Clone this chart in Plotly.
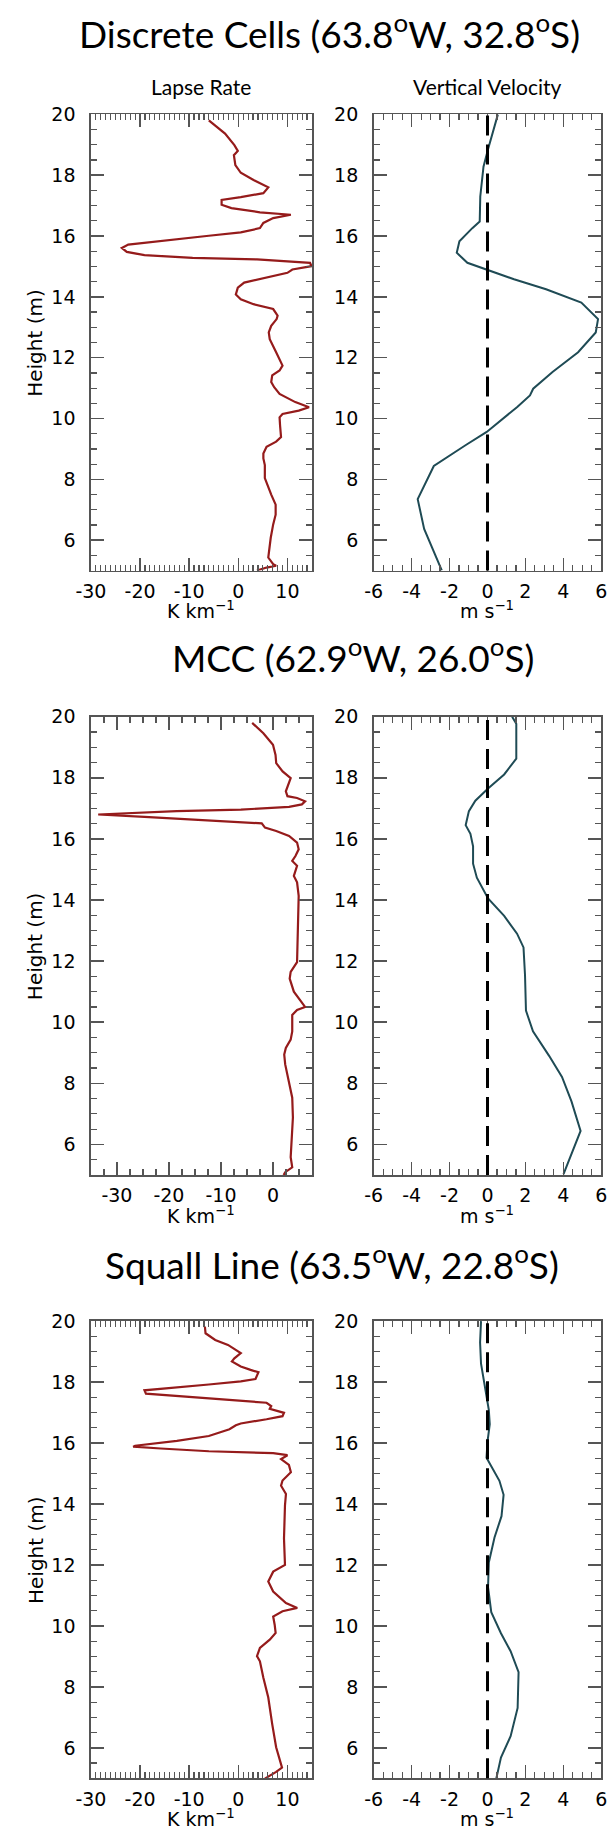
import plotly.graph_objects as go

W, H = 614, 1832

# ---------------- Data (heights in "m" as labelled) -------------
# Discrete Cells - lapse rate (K km^-1)
dc_lapse_h = [19.8, 19.37, 18.99, 18.8, 18.66, 18.33, 18.08, 17.84, 17.6, 17.41, 17.28, 17.19, 17.03,
              16.92, 16.78, 16.7, 16.59, 16.43, 16.26, 16.12, 16.01, 15.83, 15.72, 15.61, 15.48, 15.37,
              15.28, 15.23, 15.12, 15.01, 14.9, 14.79, 14.63, 14.47, 14.3, 14.08, 13.92, 13.76, 13.6,
              13.38, 13.27, 13.05, 12.83, 12.61, 12.18, 11.74, 11.58, 11.42, 11.2, 11.03, 10.81, 10.54,
              10.37, 10.26, 10.15, 10.04, 9.77, 9.39, 9.24, 9.07, 8.85, 8.69, 8.47, 8.04, 7.5, 7.17,
              6.84, 6.52, 6.08, 5.43, 5.21, 5.16, 5.1, 5.0]
dc_lapse_v = [-6.0, -2.7, -0.8, -0.1, -0.9, -0.6, 0.5, 3.1, 6.1, 5.1, 0.5, -3.4, -3.4,
              -1.4, 4.4, 10.7, 7.1, 5.1, 4.4, 0.5, -6.0, -15.8, -22.4, -23.7, -22.7, -19.1,
              -9.3, 3.8, 14.6, 14.9, 11.0, 10.0, 5.75, 1.2, -0.1, -0.5, 0.5, 3.1, 7.1,
              8.0, 7.8, 6.7, 6.2, 6.4, 7.7, 9.0, 8.4, 6.9, 6.7, 7.3, 8.4, 11.6,
              14.4, 12.3, 9.0, 8.4, 8.5, 8.7, 7.7, 5.75, 5.1, 5.1, 5.4, 5.4, 6.7, 7.6,
              7.6, 7.1, 6.6, 6.1, 7.1, 7.7, 5.75, 3.8]

# Discrete Cells - vertical velocity (m s^-1)
dc_w_h = [20.0, 19.48, 18.88, 18.28, 17.84, 17.3, 16.48, 16.26, 15.83, 15.45, 15.12, 14.9, 14.58,
          14.25, 13.81, 13.27, 12.83, 12.18, 11.53, 10.98, 10.76, 10.38, 9.56, 9.13, 8.44, 7.35,
          6.37, 5.01]
dc_w_v = [0.55, 0.30, 0.04, -0.21, -0.30, -0.38, -0.41, -0.8, -1.48, -1.62, -1.06, -0.04, 1.4,
          3.09, 4.95, 5.83, 5.71, 4.78, 3.43, 2.41, 2.24, 1.57, -0.04, -1.14, -2.83, -3.68,
          -3.34, -2.41]

# MCC - lapse rate
mcc_lapse_h = [19.8, 19.46, 19.08, 18.75, 18.48, 18.21, 17.99, 17.78, 17.56, 17.4, 17.34, 17.23, 17.13,
               17.05, 16.96, 16.91, 16.8, 16.72, 16.64, 16.55, 16.51, 16.37, 16.26, 16.1, 15.88, 15.66,
               15.44, 15.28, 15.12, 14.79, 14.58, 14.14, 13.06, 12.19, 11.97, 11.65, 11.43, 11.0, 10.78,
               10.5, 10.4, 10.24, 9.7, 9.43, 9.16, 8.94, 8.62, 8.07, 7.53, 6.88, 6.12, 5.58, 5.25,
               5.09, 5.0]
mcc_lapse_v = [-4.0, -1.85, 0.0, 0.49, 0.62, 1.85, 3.4, 2.96, 2.47, 2.78, 4.63, 6.17, 5.56,
               3.09, -6.17, -18.5, -33.6, -24.7, -15.4, -6.17, -2.16, -1.54, 0.62, 3.09, 4.63, 4.94,
               4.32, 3.7, 4.63, 4.01, 4.63, 4.94, 4.81, 4.63, 4.63, 3.4, 3.21, 4.01, 4.94,
               6.17, 4.63, 3.7, 3.7, 3.4, 2.47, 2.16, 2.35, 2.96, 3.7, 3.83, 3.58, 3.4, 3.7,
               2.35, 2.04]

# MCC - vertical velocity
mcc_w_h = [20.0, 19.77, 18.63, 18.11, 17.65, 17.25, 16.91, 16.45, 16.17, 15.76, 15.19, 14.73, 14.05,
           13.48, 12.9, 12.45, 11.53, 10.38, 9.7, 8.9, 8.21, 7.41, 6.44, 5.69, 5.03]
mcc_w_v = [1.30, 1.52, 1.52, 0.88, 0.03, -0.64, -0.98, -1.15, -0.90, -0.76, -0.76, -0.56, 0.03,
           0.88, 1.56, 1.90, 1.98, 2.03, 2.4, 3.25, 3.93, 4.43, 4.91, 4.43, 4.01]

# Squall Line - lapse rate
sl_lapse_h = [19.82, 19.6, 19.38, 19.22, 18.95, 18.78, 18.68, 18.51, 18.4, 18.32, 18.1, 18.02, 17.92,
              17.77, 17.73, 17.62, 17.54, 17.43, 17.32, 17.21, 17.12, 16.99, 16.88, 16.78, 16.64, 16.58,
              16.45, 16.23, 16.07, 15.91, 15.88, 15.82, 15.73, 15.67, 15.6, 15.47, 15.28, 15.04, 14.77,
              14.6, 14.33, 13.95, 12.87, 12.0, 11.78, 11.46, 11.13, 10.75, 10.59, 10.48, 10.31, 10.04,
              9.77, 9.55, 9.28, 9.01, 8.84, 8.3, 7.65, 6.78, 6.02, 5.35, 5.21, 4.99]
sl_lapse_v = [-6.8, -6.67, -4.7, -2.1, 0.5, -0.8, -1.3, 0.5, 2.5, 4.1, 3.5, 0.5, -6.0,
              -15.8, -19.1, -18.8, -12.5, -2.75, 5.75, 6.7, 6.4, 9.3, 9.0, 5.75, 0.5, -0.5,
              -1.8, -6.0, -12.5, -21.0, -21.4, -15.8, -6.0, 7.1, 10.0, 8.7, 10.3, 10.7, 9.0,
              8.7, 9.7, 9.5, 9.3, 9.5, 7.1, 6.1, 7.1, 9.7, 12.0, 9.0, 7.1, 7.4,
              7.6, 6.4, 4.4, 3.8, 4.4, 5.1, 6.1, 6.9, 7.7, 8.9, 7.7, 5.4]

# Squall Line - vertical velocity
sl_w_h = [20.0, 19.3, 18.6, 17.79, 17.09, 16.62, 16.04, 15.52, 15.23, 14.76, 14.3, 13.6, 12.9,
          12.08, 11.27, 10.45, 9.76, 9.17, 8.48, 7.31, 6.38, 5.68, 4.98]
sl_w_v = [-0.34, -0.39, -0.34, -0.14, 0.07, 0.12, 0.0, -0.05, 0.2, 0.63, 0.85, 0.74, 0.37,
          0.07, 0.03, 0.2, 0.71, 1.22, 1.64, 1.59, 1.22, 0.71, 0.46]

titles = ["Discrete Cells (63.8<sup>o</sup>W, 32.8<sup>o</sup>S)",
          "MCC (62.9<sup>o</sup>W, 26.0<sup>o</sup>S)",
          "Squall Line (63.5<sup>o</sup>W, 22.8<sup>o</sup>S)"]
col_titles = ["Lapse Rate", "Vertical Velocity"]
height_ticks = [6, 8, 10, 12, 14, 16, 18, 20]
lapse_ticks_a = [-30, -20, -10, 0, 10]
lapse_ticks_b = [-30, -20, -10, 0]
w_ticks = [-6, -4, -2, 0, 2, 4, 6]

# ---------------- Layout geometry (screen pixels) ----------------
LX = (77.7, 307.0)
RX = (371.0, 607.0)
rows_px = [(104, 563), (710, 1171), (1318, 1778)]
title_px = [(325, 20), (350, 648), (328, 1259)]

RED = "#951b1b"
TEAL = "#1f4b55"
FRAME = "#555555"


def px_x(v):
    return v / W


def px_y(v):
    return 1 - v / H


def tt(vals):
    return [str(v) for v in vals]


fig = go.Figure()

panels = [
    (dc_lapse_v, dc_lapse_h, dc_w_v, dc_w_h, [-30, 15], lapse_ticks_a, 1),
    (mcc_lapse_v, mcc_lapse_h, mcc_w_v, mcc_w_h, [-35, 7.5], lapse_ticks_b, 2.5),
    (sl_lapse_v, sl_lapse_h, sl_w_v, sl_w_h, [-30, 15], lapse_ticks_a, 1),
]

axis_common = dict(
    showline=True, linecolor=FRAME, linewidth=1.6, mirror="ticks",
    ticks="inside", ticklen=13, tickwidth=1.5, tickcolor=FRAME,
    showgrid=False, zeroline=False, fixedrange=True,
    tickfont=dict(family="DejaVu Sans", size=19, color="black"),
)
minor_common = dict(ticks="inside", ticklen=6, tickwidth=1.2, tickcolor=FRAME, showgrid=False)

layout_axes = {}
ann = []
shapes = []


def nm(prefix, n):
    return prefix if n == 1 else f"{prefix}{n}"


for i, (lv, lh, wv, wh, lrange, lticks, lminor) in enumerate(panels):
    top, bot = rows_px[i]
    ydom = [px_y(bot), px_y(top)]
    xl, yl = 2 * i + 1, 2 * i + 1
    xr, yr = 2 * i + 2, 2 * i + 2

    fig.add_trace(go.Scatter(x=lv, y=lh, mode="lines", line=dict(color=RED, width=2.2),
                             xaxis=nm("x", xl), yaxis=nm("y", yl), showlegend=False))
    fig.add_trace(go.Scatter(x=wv, y=wh, mode="lines", line=dict(color=TEAL, width=2.0),
                             xaxis=nm("x", xr), yaxis=nm("y", yr), showlegend=False))

    layout_axes[nm("xaxis", xl)] = dict(
        axis_common, domain=[px_x(LX[0]), px_x(LX[1])], range=lrange, anchor=nm("y", yl),
        tickvals=lticks, ticktext=tt(lticks), ticklabelstandoff=3,
        minor=dict(minor_common, dtick=lminor))
    layout_axes[nm("yaxis", yl)] = dict(
        axis_common, domain=ydom, range=[5, 20], anchor=nm("x", xl),
        tickvals=height_ticks, ticktext=tt(height_ticks), ticklabelstandoff=10,
        minor=dict(minor_common, dtick=0.5))
    layout_axes[nm("xaxis", xr)] = dict(
        axis_common, domain=[px_x(RX[0]), px_x(RX[1])], range=[-6, 6], anchor=nm("y", yr),
        tickvals=w_ticks, ticktext=tt(w_ticks), ticklabelstandoff=3,
        minor=dict(minor_common, dtick=0.5))
    layout_axes[nm("yaxis", yr)] = dict(
        axis_common, domain=ydom, range=[5, 20], anchor=nm("x", xr),
        tickvals=height_ticks, ticktext=tt(height_ticks), ticklabelstandoff=10,
        minor=dict(minor_common, dtick=0.5))

    # zero reference line
    shapes.append(dict(type="line", xref=nm("x", xr), yref=nm("y", yr) + " domain",
                       x0=0, x1=0, y0=0, y1=1,
                       line=dict(color="black", width=3, dash="20px,9px")))

    # panel title
    tx, ty = title_px[i]
    ann.append(dict(text=titles[i], x=px_x(tx), y=px_y(ty), xref="paper", yref="paper",
                    showarrow=False, xanchor="center", yanchor="middle",
                    font=dict(family="Lato", size=37, color="black")))
    # Height label
    ann.append(dict(text="Height (m)", x=px_x(20), y=px_y((top + bot) / 2), xref="paper", yref="paper",
                    showarrow=False, textangle=-90, xanchor="center", yanchor="middle",
                    font=dict(family="DejaVu Sans", size=20, color="black")))
    # x-axis titles
    ann.append(dict(text="K km<sup>−1</sup>", x=px_x((LX[0] + LX[1]) / 2), y=px_y(bot + 40),
                    xref="paper", yref="paper", showarrow=False, xanchor="center", yanchor="middle",
                    font=dict(family="DejaVu Sans", size=19, color="black")))
    ann.append(dict(text="m s<sup>−1</sup>", x=px_x((RX[0] + RX[1]) / 2), y=px_y(bot + 40),
                    xref="paper", yref="paper", showarrow=False, xanchor="center", yanchor="middle",
                    font=dict(family="DejaVu Sans", size=19, color="black")))

# column sub-titles (top row only)
for (x0, x1), ct in zip([LX, RX], col_titles):
    ann.append(dict(text=ct, x=px_x((x0 + x1) / 2), y=px_y(76), xref="paper", yref="paper",
                    showarrow=False, xanchor="center", yanchor="middle",
                    font=dict(family="Lato", size=21, color="black")))

fig.update_layout(
    width=W, height=H, margin=dict(l=0, r=0, t=0, b=0),
    paper_bgcolor="white", plot_bgcolor="white",
    showlegend=False, annotations=ann, shapes=shapes,
    **layout_axes,
)

# remove the default page margin so the figure sits exactly at the window's corner
fig.write_html("out.html",
               config={"displayModeBar": False, "staticPlot": True},
               post_script="document.body.style.margin='0';document.body.style.overflow='hidden';")
